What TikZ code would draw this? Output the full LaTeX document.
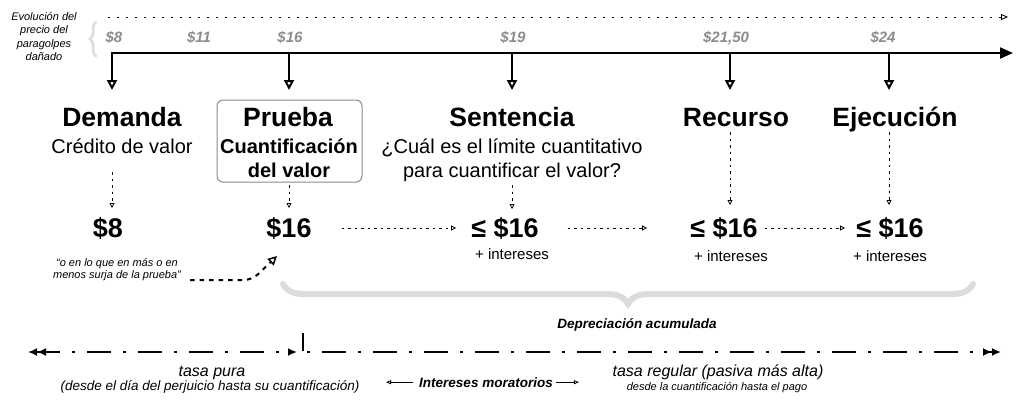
\documentclass[tikz,border=0pt]{standalone}
\usepackage{fontspec}
\setmainfont{Liberation Sans}
\usepackage{xcolor}
\usetikzlibrary{arrows.meta,decorations.pathreplacing}

\definecolor{pricegray}{HTML}{8C8C8C}
\definecolor{bracegray}{HTML}{DCDCDC}
\definecolor{boxgray}{HTML}{8A8A8A}

\begin{document}
\begin{tikzpicture}[x=1pt, y=-1pt, inner sep=0pt]
    % Define styles
    \tikzstyle{side} = [anchor=base, font=\fontsize{11}{13}\selectfont\itshape]
    \tikzstyle{price} = [anchor=base, text=pricegray, font=\fontsize{15}{18}\selectfont\bfseries\itshape]
    \tikzstyle{stage} = [anchor=base, font=\fontsize{26.5}{30}\selectfont\bfseries]
    \tikzstyle{stagesub} = [anchor=base, font=\fontsize{20}{24}\selectfont]
    \tikzstyle{amount} = [anchor=base, font=\fontsize{27}{30}\selectfont\bfseries]
    \tikzstyle{plus} = [anchor=base, font=\fontsize{15}{18}\selectfont]
    \tikzstyle{quote} = [anchor=base, font=\fontsize{11}{13}\selectfont\itshape]
    \tikzstyle{rate} = [anchor=base, font=\fontsize{16}{19}\selectfont\itshape]
    \tikzstyle{ratesub} = [anchor=base, font=\fontsize{13.5}{16}\selectfont\itshape]
    \tikzstyle{boldnote} = [anchor=base, font=\fontsize{13.5}{16}\selectfont\bfseries\itshape]
    \tikzstyle{timeline} = [line width=2pt, -{Triangle[length=13pt,width=11pt]}]
    \tikzstyle{drop} = [line width=2pt, -{Triangle[open,length=10pt,width=10pt]}]
    \tikzstyle{evoline} = [line width=0.8pt, dash pattern=on 2pt off 7pt, -{Triangle[open,length=7pt,width=6pt]}]
    \tikzstyle{dotarrow} = [line width=0.8pt, dash pattern=on 2.5pt off 4pt, -{Triangle[open,length=5pt,width=5pt]}]
    \tikzstyle{hint} = [line width=2pt, dash pattern=on 4.5pt off 5pt, rounded corners=8pt, -{Triangle[open,length=9pt,width=9pt,line width=1.5pt]}]
    \tikzstyle{dashdot} = [line width=2.5pt, dash pattern=on 24pt off 12pt on 3pt off 12pt]
    \tikzstyle{mora} = [line width=0.8pt, -{Triangle[open,length=5pt,width=4pt]}]
    \tikzstyle{gbrace} = [decorate, draw=bracegray, line cap=round]

    \useasboundingbox (0,0) rectangle (1024,405);

    % Price evolution
    \node [side] (evo1) at (44,20) {Evolución del};
    \node [side] (evo2) at (44,33.5) {precio del};
    \node [side] (evo3) at (44,47) {paragolpes};
    \node [side] (evo4) at (44,60) {dañado};
    \draw [gbrace, line width=2.5pt, decoration={brace, amplitude=6pt}] (96,56) -- (96,22);

    \coordinate (evostart) at (108,17);
    \coordinate (evoend) at (1008,17);
    \draw [evoline] (evostart) -- (evoend);

    \node [price] (p8) at (114,42) {\$8};
    \node [price] (p11) at (199,42) {\$11};
    \node [price] (p16) at (290,42) {\$16};
    \node [price] (p19) at (513,42) {\$19};
    \node [price] (p2150) at (726,42) {\$21,50};
    \node [price] (p24) at (883,42) {\$24};

    % Main timeline with the stages
    \coordinate (t0) at (111,53);
    \coordinate (tend) at (1013,53);
    \coordinate (t1) at (112,53);
    \coordinate (t2) at (289,53);
    \coordinate (t3) at (512,53);
    \coordinate (t4) at (730,53);
    \coordinate (t5) at (889,53);
    \draw [timeline] (t0) -- (tend);
    \draw [drop] (t1) -- ++(0,37);
    \draw [drop] (t2) -- ++(0,37);
    \draw [drop] (t3) -- ++(0,37);
    \draw [drop] (t4) -- ++(0,37);
    \draw [drop] (t5) -- ++(0,37);

    % Stages
    \node [draw=boxgray, line width=1pt, rounded corners=6pt, minimum width=145pt, minimum height=82pt] (pbox) at (289.5,141) {};
    \node [stage] (demanda) at (122,126) {Demanda};
    \node [stage] (prueba) at (288,126) {Prueba};
    \node [stage] (sentencia) at (512,126) {Sentencia};
    \node [stage] (recurso) at (736,126) {Recurso};
    \node [stage] (ejecucion) at (895,126) {Ejecución};

    \node [stagesub] (credito) at (122,153) {Crédito de valor};
    \node [stagesub, font=\fontsize{20}{24}\selectfont\bfseries] (cuant1) at (289,153) {Cuantificación};
    \node [stagesub, font=\fontsize{20}{24}\selectfont\bfseries] (cuant2) at (289,177) {del valor};
    \node [stagesub] (limite1) at (512,153) {¿Cuál es el límite cuantitativo};
    \node [stagesub] (limite2) at (512,177) {para cuantificar el valor?};

    % Amounts
    \node [amount] (v1) at (108,237) {\$8};
    \node [amount] (v2) at (289,237) {\$16};
    \node [amount] (v3) at (505,237) {≤ \$16};
    \node [amount] (v4) at (724,237) {≤ \$16};
    \node [amount] (v5) at (890,237) {≤ \$16};

    \node [plus] (i3) at (512,259) {+ intereses};
    \node [plus] (i4) at (731,261) {+ intereses};
    \node [plus] (i5) at (890,261) {+ intereses};

    \node [quote] (q1) at (117,266) {“o en lo que en más o en};
    \node [quote] (q2) at (117,278) {menos surja de la prueba”};

    % Dotted links
    \coordinate (a1) at (112,172);
    \coordinate (b1) at (112,208);
    \coordinate (a2) at (289,185);
    \coordinate (b2) at (289,208);
    \coordinate (a3) at (512,185);
    \coordinate (b3) at (512,209);
    \coordinate (a4) at (730,132);
    \coordinate (b4) at (730,205);
    \coordinate (a5) at (889,132);
    \coordinate (b5) at (889,205);
    \draw [dotarrow] (a1) -- (b1);
    \draw [dotarrow] (a2) -- (b2);
    \draw [dotarrow] (a3) -- (b3);
    \draw [dotarrow] (a4) -- (b4);
    \draw [dotarrow] (a5) -- (b5);

    \draw [dotarrow] ([xshift=30pt]v2.east) -- ([xshift=-15pt]v3.west);
    \draw [dotarrow] ([xshift=29pt]v3.east) -- ([xshift=-43pt]v4.west);
    \draw [dotarrow] ([xshift=7pt]v4.east) -- ([xshift=-11pt]v5.west);

    \coordinate (hintstart) at (190,280);
    \coordinate (hintcorner) at (252,280);
    \coordinate (hintend) at (277,256);
    \draw [hint] (hintstart) -- (hintcorner) -- (hintend);

    % Accumulated depreciation
    \draw [gbrace, line width=6pt, decoration={brace, amplitude=20pt}] (973,284) -- (283,284);
    \node [boldnote] (deprec) at (637,328) {Depreciación acumulada};

    % Interest periods
    \coordinate (bl) at (28,352);
    \coordinate (bm) at (297,352);
    \coordinate (tka) at (303,333);
    \coordinate (tkb) at (303,352);
    \coordinate (br) at (1001,352);
    \draw [dashdot, {Latex[length=9pt,width=8pt]Latex[length=9pt,width=8pt]}-{Latex[length=9pt,width=8pt]}] (bl) -- (bm);
    \draw [line width=1.5pt] (tka) -- ([yshift=1pt]tkb);
    \draw [dashdot, dash phase=36pt, -{Latex[length=9pt,width=8pt]Latex[length=9pt,width=8pt]}] ([xshift=4pt]tkb) -- (br);

    \node [rate] (pura) at (212,376) {tasa pura};
    \node [ratesub] (purasub) at (210,390) {(desde el día del perjuicio hasta su cuantificación)};
    \node [rate] (regular) at (718,376) {tasa regular (pasiva más alta)};
    \node [side] (regularsub) at (717,390) {desde la cuantificación hasta el pago};

    \node [boldnote] (mora) at (486,387) {Intereses moratorios};
    \draw [mora] ([xshift=-6pt]mora.west) -- ++(-27,0);
    \draw [mora] ([xshift=3pt]mora.east) -- ++(23,0);
\end{tikzpicture}
\end{document}
